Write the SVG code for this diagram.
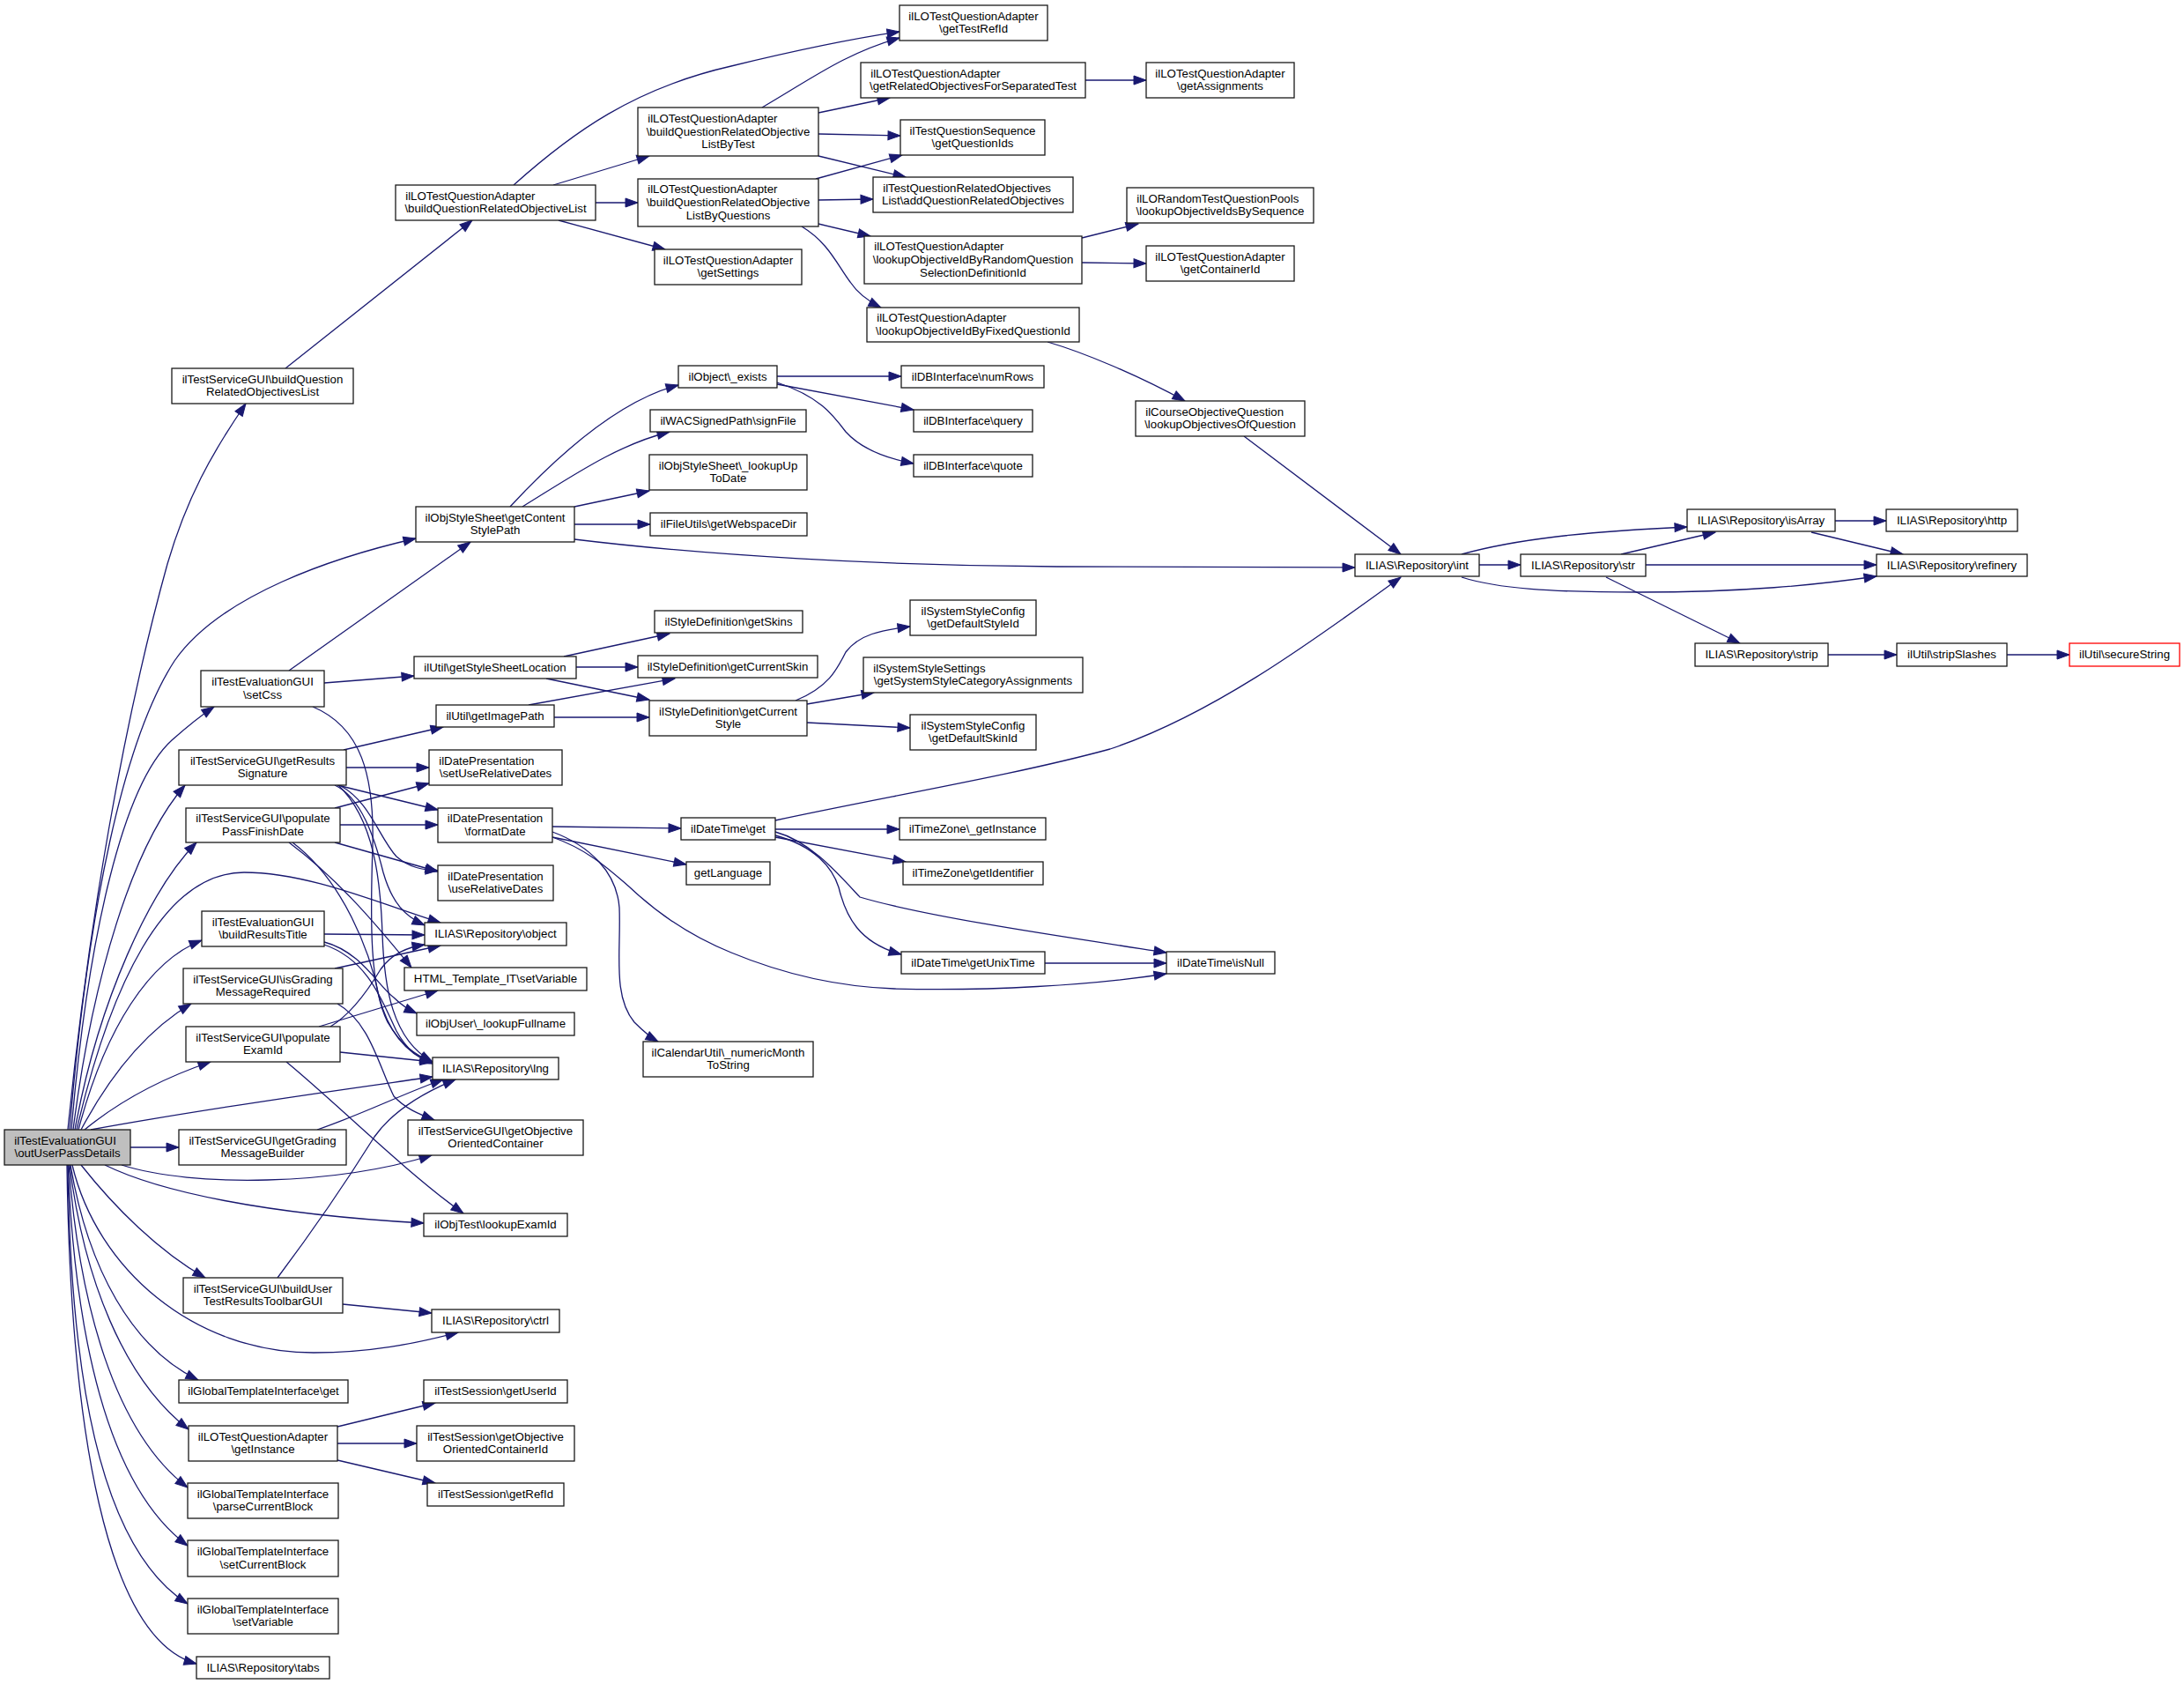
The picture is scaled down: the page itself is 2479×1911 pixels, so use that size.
<svg xmlns="http://www.w3.org/2000/svg" width="2479" height="1911" viewBox="0 0 2479 1911">
<defs>
<style>
.n rect{fill:#fff;stroke:#1a1a1a;stroke-width:1.3}
.root rect{fill:#bfbfbf}
.red rect{stroke:#ff0000}
text{font-family:"Liberation Sans",Arial,Helvetica,sans-serif;font-size:13.25px;fill:#000;text-anchor:middle}
text.l{text-anchor:start}
.e path{fill:none;stroke:#191970;stroke-width:1.3;marker-end:url(#a)}
</style>
<marker id="a" markerUnits="userSpaceOnUse" markerWidth="15" markerHeight="11" refX="14" refY="5" orient="auto" overflow="visible">
<path d="M0,0 L14,5 L0,10 z" fill="#191970" stroke="#191970" stroke-width="1"/>
</marker>
</defs>
<rect width="2479" height="1911" fill="#fff"/>
<g class="e" id="edges">
<path d="M77,1282 C100,1050 140,820 190,640 C212,565 240,515 279,458"/>
<path d="M79,1282 C100,1030 140,840 198,750 C250,675 380,632 472,611"/>
<path d="M81,1282 C100,1060 140,890 195,840 C212,825 228,812 243,802"/>
<path d="M83,1282 C105,1110 150,960 210,891"/>
<path d="M85,1282 C112,1135 170,1010 223,956"/>
<path d="M87,1282 C125,1120 185,990 277,990 C350,990 430,1025 500,1047"/>
<path d="M89,1282 C120,1165 170,1090 229,1067"/>
<path d="M92,1282 C125,1220 165,1170 217,1139"/>
<path d="M96,1282 C135,1250 180,1225 239,1205"/>
<path d="M103,1282 C250,1255 400,1235 491,1222"/>
<path d="M148,1302 L203,1302"/>
<path d="M138,1322 C220,1348 380,1345 490,1311"/>
<path d="M119,1322 C180,1352 300,1378 481,1388"/>
<path d="M92,1322 C130,1370 180,1420 233,1450"/>
<path d="M82,1322 C110,1440 220,1535 356,1535 C420,1535 470,1525 520,1512"/>
<path d="M80,1322 C100,1440 150,1530 225,1566"/>
<path d="M79,1322 C95,1450 140,1565 214,1622"/>
<path d="M78,1322 C90,1480 130,1625 213,1688"/>
<path d="M77,1322 C85,1510 120,1685 213,1754"/>
<path d="M77,1322 C80,1550 110,1755 213,1820"/>
<path d="M76,1322 C80,1620 120,1860 223,1888"/>
<path d="M324,418 L536,250"/>
<path d="M583,210 C650,150 720,100 830,75 C900,58 960,45 1021,36"/>
<path d="M628,210 L737,177"/>
<path d="M676,230 L724,230"/>
<path d="M634,250 L755,283"/>
<path d="M865,122 C920,90 960,60 1021,43"/>
<path d="M929,128 L1010,111"/>
<path d="M929,152 L1022,154"/>
<path d="M929,177 L1028,201"/>
<path d="M926,203 L1024,176"/>
<path d="M929,227 L991,226"/>
<path d="M929,254 L988,268"/>
<path d="M910,257 C940,275 950,300 965,320 C975,335 988,343 1000,349"/>
<path d="M1232,91 L1301,91"/>
<path d="M1228,270 L1292,254"/>
<path d="M1228,298 L1301,299"/>
<path d="M1189,388 C1230,400 1290,425 1345,455"/>
<path d="M1412,495 L1590,629"/>
<path d="M579,575 C630,520 700,455 770,437"/>
<path d="M593,575 C650,540 700,505 760,490"/>
<path d="M652,575 L737,557"/>
<path d="M652,595 L738,595"/>
<path d="M652,612 C800,630 1000,642 1200,643 C1350,644 1450,644 1538,644"/>
<path d="M882,427 L1023,427"/>
<path d="M882,436 L1037,465"/>
<path d="M882,434 C930,450 945,470 960,490 C978,510 1005,520 1037,526"/>
<path d="M1659,629 C1720,612 1800,603 1915,598"/>
<path d="M1679,641 L1726,641"/>
<path d="M1659,655 C1700,668 1760,672 1860,672 C1980,672 2060,664 2130,654"/>
<path d="M1840,629 L1947,604"/>
<path d="M1868,641 L2130,641"/>
<path d="M1823,655 L1975,730"/>
<path d="M2083,591 L2141,591"/>
<path d="M2056,604 L2160,629"/>
<path d="M2075,743 L2153,743"/>
<path d="M2278,743 L2349,743"/>
<path d="M328,761 C400,710 470,660 534,615"/>
<path d="M368,775 L470,767"/>
<path d="M355,802 C410,825 425,880 423,960 C420,1050 420,1120 440,1160 C455,1185 470,1197 491,1205"/>
<path d="M640,745 L760,719"/>
<path d="M654,757 L724,757"/>
<path d="M620,770 L737,794"/>
<path d="M600,800 L766,770"/>
<path d="M629,814 L737,814"/>
<path d="M903,795 C940,780 950,760 960,740 C975,720 1000,715 1033,711"/>
<path d="M916,799 L992,786"/>
<path d="M916,820 L1033,826"/>
<path d="M390,851 L503,825"/>
<path d="M393,871 L487,871"/>
<path d="M383,891 L497,919"/>
<path d="M387,892 C420,910 430,950 450,972 C465,985 480,987 497,988"/>
<path d="M380,891 C410,905 425,950 435,990 C445,1025 460,1040 482,1050"/>
<path d="M384,891 C425,930 432,1000 434,1060 C436,1120 445,1180 491,1205"/>
<path d="M380,917 L487,889"/>
<path d="M386,936 L497,936"/>
<path d="M380,956 L497,989"/>
<path d="M328,956 C380,995 420,1040 467,1098"/>
<path d="M332,956 C390,1000 420,1080 430,1130 C440,1170 460,1195 491,1207"/>
<path d="M368,1060 L482,1061"/>
<path d="M368,1069 C410,1080 430,1120 447,1132 C455,1140 462,1145 473,1150"/>
<path d="M368,1072 C420,1090 435,1140 450,1170 C462,1192 475,1200 491,1207"/>
<path d="M380,1099 L500,1073"/>
<path d="M383,1139 C420,1160 430,1210 447,1244 C460,1258 475,1264 493,1271"/>
<path d="M375,1165 C400,1150 420,1120 432,1100 C445,1082 462,1075 482,1072"/>
<path d="M362,1165 L497,1124"/>
<path d="M386,1194 L491,1205"/>
<path d="M325,1205 C380,1250 460,1330 526,1377"/>
<path d="M360,1282 C410,1265 460,1240 503,1225"/>
<path d="M315,1450 C360,1390 400,1330 425,1290 C445,1262 480,1240 517,1225"/>
<path d="M389,1480 L490,1490"/>
<path d="M383,1619 L494,1592"/>
<path d="M383,1638 L473,1638"/>
<path d="M383,1657 L494,1683"/>
<path d="M627,938 L773,940"/>
<path d="M627,950 L779,981"/>
<path d="M627,944 C670,960 700,990 703,1030 C705,1080 695,1130 720,1160 C730,1170 738,1177 747,1182"/>
<path d="M627,950 C670,965 695,990 715,1007 C750,1040 790,1065 830,1081 C900,1110 960,1120 1015,1122 C1120,1125 1240,1118 1324,1105"/>
<path d="M880,931 C1000,905 1150,880 1260,850 C1380,810 1500,720 1590,655"/>
<path d="M880,941 L1021,941"/>
<path d="M880,950 L1028,978"/>
<path d="M880,948 C925,960 945,985 952,1007 C960,1040 975,1070 1023,1083"/>
<path d="M880,944 C920,955 950,990 976,1018 C1050,1040 1200,1062 1324,1081"/>
<path d="M1186,1093 L1324,1093"/>
</g>
<g class="n root" id="n_root"><rect x="5" y="1282" width="143" height="40"/><text class="l" x="16.2" y="1298.7">ilTestEvaluationGUI</text><text x="76.5" y="1313.3">\outUserPassDetails</text></g>
<g class="n" id="n_bqrol"><rect x="195" y="418" width="206" height="40"/><text x="298" y="434.7">ilTestServiceGUI\buildQuestion</text><text x="298" y="449.3">RelatedObjectivesList</text></g>
<g class="n" id="n_bqrol2"><rect x="449" y="210" width="227" height="40"/><text class="l" x="460.2" y="226.7">ilLOTestQuestionAdapter</text><text x="562.5" y="241.3">\buildQuestionRelatedObjectiveList</text></g>
<g class="n" id="n_gcsp"><rect x="472" y="575" width="180" height="40"/><text x="562" y="591.7">ilObjStyleSheet\getContent</text><text x="562" y="606.3">StylePath</text></g>
<g class="n" id="n_getTestRefId"><rect x="1021" y="6" width="168" height="40"/><text x="1105" y="22.7">ilLOTestQuestionAdapter</text><text x="1105" y="37.3">\getTestRefId</text></g>
<g class="n" id="n_grofst"><rect x="977" y="71" width="255" height="40"/><text class="l" x="988.2" y="87.7">ilLOTestQuestionAdapter</text><text x="1104.5" y="102.3">\getRelatedObjectivesForSeparatedTest</text></g>
<g class="n" id="n_lbt"><rect x="724" y="122" width="205" height="55"/><text class="l" x="735.2" y="138.9">ilLOTestQuestionAdapter</text><text x="826.5" y="153.5">\buildQuestionRelatedObjective</text><text x="826.5" y="168.1">ListByTest</text></g>
<g class="n" id="n_gqi"><rect x="1022" y="136" width="164" height="40"/><text x="1104" y="152.7">ilTestQuestionSequence</text><text x="1104" y="167.3">\getQuestionIds</text></g>
<g class="n" id="n_aqro"><rect x="991" y="201" width="227" height="40"/><text class="l" x="1002.2" y="217.7">ilTestQuestionRelatedObjectives</text><text x="1104.5" y="232.3">List\addQuestionRelatedObjectives</text></g>
<g class="n" id="n_lbq"><rect x="724" y="203" width="205" height="54"/><text class="l" x="735.2" y="219.4">ilLOTestQuestionAdapter</text><text x="826.5" y="234">\buildQuestionRelatedObjective</text><text x="826.5" y="248.6">ListByQuestions</text></g>
<g class="n" id="n_gs"><rect x="743" y="283" width="167" height="40"/><text x="826.5" y="299.7">ilLOTestQuestionAdapter</text><text x="826.5" y="314.3">\getSettings</text></g>
<g class="n" id="n_loirq"><rect x="981" y="268" width="247" height="54"/><text class="l" x="992.2" y="284.4">ilLOTestQuestionAdapter</text><text x="1104.5" y="299">\lookupObjectiveIdByRandomQuestion</text><text x="1104.5" y="313.6">SelectionDefinitionId</text></g>
<g class="n" id="n_loifq"><rect x="984" y="349" width="241" height="39"/><text class="l" x="995.2" y="365.2">ilLOTestQuestionAdapter</text><text x="1104.5" y="379.8">\lookupObjectiveIdByFixedQuestionId</text></g>
<g class="n" id="n_exists"><rect x="770" y="415" width="112" height="25"/><text x="826" y="431.8">ilObject\_exists</text></g>
<g class="n" id="n_numRows"><rect x="1023" y="415" width="162" height="25"/><text x="1104" y="431.8">ilDBInterface\numRows</text></g>
<g class="n" id="n_signFile"><rect x="738" y="465" width="177" height="25"/><text x="826.5" y="481.8">ilWACSignedPath\signFile</text></g>
<g class="n" id="n_query"><rect x="1037" y="465" width="135" height="25"/><text x="1104.5" y="481.8">ilDBInterface\query</text></g>
<g class="n" id="n_lutd"><rect x="737" y="516" width="179" height="40"/><text x="826.5" y="532.7">ilObjStyleSheet\_lookupUp</text><text x="826.5" y="547.3">ToDate</text></g>
<g class="n" id="n_quote"><rect x="1037" y="516" width="135" height="25"/><text x="1104.5" y="532.8">ilDBInterface\quote</text></g>
<g class="n" id="n_webspace"><rect x="738" y="582" width="178" height="26"/><text x="827" y="599.3">ilFileUtils\getWebspaceDir</text></g>
<g class="n" id="n_getAssignments"><rect x="1301" y="71" width="168" height="40"/><text x="1385" y="87.7">ilLOTestQuestionAdapter</text><text x="1385" y="102.3">\getAssignments</text></g>
<g class="n" id="n_loibs"><rect x="1279" y="213" width="212" height="40"/><text class="l" x="1290.2" y="229.7">ilLORandomTestQuestionPools</text><text x="1385" y="244.3">\lookupObjectiveIdsBySequence</text></g>
<g class="n" id="n_getContainerId"><rect x="1301" y="279" width="168" height="40"/><text x="1385" y="295.7">ilLOTestQuestionAdapter</text><text x="1385" y="310.3">\getContainerId</text></g>
<g class="n" id="n_looq"><rect x="1289" y="455" width="192" height="40"/><text class="l" x="1300.2" y="471.7">ilCourseObjectiveQuestion</text><text x="1385" y="486.3">\lookupObjectivesOfQuestion</text></g>
<g class="n" id="n_int"><rect x="1538" y="629" width="141" height="25"/><text x="1608.5" y="645.8">ILIAS\Repository\int</text></g>
<g class="n" id="n_str"><rect x="1726" y="629" width="142" height="25"/><text x="1797" y="645.8">ILIAS\Repository\str</text></g>
<g class="n" id="n_isArray"><rect x="1915" y="578" width="168" height="25"/><text x="1999" y="594.8">ILIAS\Repository\isArray</text></g>
<g class="n" id="n_http"><rect x="2141" y="578" width="149" height="25"/><text x="2215.5" y="594.8">ILIAS\Repository\http</text></g>
<g class="n" id="n_refinery"><rect x="2130" y="629" width="171" height="25"/><text x="2215.5" y="645.8">ILIAS\Repository\refinery</text></g>
<g class="n" id="n_strip"><rect x="1924" y="730" width="151" height="26"/><text x="1999.5" y="747.3">ILIAS\Repository\strip</text></g>
<g class="n" id="n_stripSlashes"><rect x="2153" y="730" width="125" height="26"/><text x="2215.5" y="747.3">ilUtil\stripSlashes</text></g>
<g class="n red" id="n_secureString"><rect x="2349" y="730" width="125" height="26"/><text x="2411.5" y="747.3">ilUtil\secureString</text></g>
<g class="n" id="n_gssl"><rect x="470" y="745" width="184" height="25"/><text x="562" y="761.8">ilUtil\getStyleSheetLocation</text></g>
<g class="n" id="n_setCss"><rect x="228" y="761" width="140" height="41"/><text x="298" y="778.2">ilTestEvaluationGUI</text><text x="298" y="792.8">\setCss</text></g>
<g class="n" id="n_getImagePath"><rect x="495" y="800" width="134" height="25"/><text x="562" y="816.8">ilUtil\getImagePath</text></g>
<g class="n" id="n_grs"><rect x="203" y="851" width="190" height="40"/><text x="298" y="867.7">ilTestServiceGUI\getResults</text><text x="298" y="882.3">Signature</text></g>
<g class="n" id="n_surd"><rect x="487" y="851" width="151" height="40"/><text class="l" x="498.2" y="867.7">ilDatePresentation</text><text x="562.5" y="882.3">\setUseRelativeDates</text></g>
<g class="n" id="n_ppfd"><rect x="211" y="917" width="175" height="39"/><text x="298.5" y="933.2">ilTestServiceGUI\populate</text><text x="298.5" y="947.8">PassFinishDate</text></g>
<g class="n" id="n_formatDate"><rect x="497" y="917" width="130" height="39"/><text x="562" y="933.2">ilDatePresentation</text><text x="562" y="947.8">\formatDate</text></g>
<g class="n" id="n_urd"><rect x="497" y="982" width="131" height="40"/><text x="562.5" y="998.7">ilDatePresentation</text><text x="562.5" y="1013.3">\useRelativeDates</text></g>
<g class="n" id="n_brt"><rect x="229" y="1034" width="139" height="40"/><text x="298.5" y="1050.7">ilTestEvaluationGUI</text><text x="298.5" y="1065.3">\buildResultsTitle</text></g>
<g class="n" id="n_object"><rect x="482" y="1047" width="161" height="26"/><text x="562.5" y="1064.3">ILIAS\Repository\object</text></g>
<g class="n" id="n_htmlsv"><rect x="459" y="1098" width="207" height="26"/><text x="562.5" y="1115.3">HTML_Template_IT\setVariable</text></g>
<g class="n" id="n_igmr"><rect x="208" y="1099" width="181" height="40"/><text x="298.5" y="1115.7">ilTestServiceGUI\isGrading</text><text x="298.5" y="1130.3">MessageRequired</text></g>
<g class="n" id="n_lookupFullname"><rect x="473" y="1149" width="179" height="26"/><text x="562.5" y="1166.3">ilObjUser\_lookupFullname</text></g>
<g class="n" id="n_pei"><rect x="211" y="1165" width="175" height="40"/><text x="298.5" y="1181.7">ilTestServiceGUI\populate</text><text x="298.5" y="1196.3">ExamId</text></g>
<g class="n" id="n_lng"><rect x="491" y="1200" width="143" height="25"/><text x="562.5" y="1216.8">ILIAS\Repository\lng</text></g>
<g class="n" id="n_gooc"><rect x="463" y="1271" width="199" height="40"/><text x="562.5" y="1287.7">ilTestServiceGUI\getObjective</text><text x="562.5" y="1302.3">OrientedContainer</text></g>
<g class="n" id="n_getSkins"><rect x="743" y="693" width="168" height="25"/><text x="827" y="709.8">ilStyleDefinition\getSkins</text></g>
<g class="n" id="n_getCurrentSkin"><rect x="724" y="744" width="204" height="25"/><text x="826" y="760.8">ilStyleDefinition\getCurrentSkin</text></g>
<g class="n" id="n_getCurrentStyle"><rect x="737" y="795" width="179" height="40"/><text x="826.5" y="811.7">ilStyleDefinition\getCurrent</text><text x="826.5" y="826.3">Style</text></g>
<g class="n" id="n_gdsi"><rect x="1033" y="681" width="143" height="40"/><text x="1104.5" y="697.7">ilSystemStyleConfig</text><text x="1104.5" y="712.3">\getDefaultStyleId</text></g>
<g class="n" id="n_gssca"><rect x="980" y="746" width="249" height="40"/><text class="l" x="991.2" y="762.7">ilSystemStyleSettings</text><text x="1104.5" y="777.3">\getSystemStyleCategoryAssignments</text></g>
<g class="n" id="n_gdski"><rect x="1033" y="811" width="143" height="40"/><text x="1104.5" y="827.7">ilSystemStyleConfig</text><text x="1104.5" y="842.3">\getDefaultSkinId</text></g>
<g class="n" id="n_dtget"><rect x="773" y="928" width="107" height="25"/><text x="826.5" y="944.8">ilDateTime\get</text></g>
<g class="n" id="n_tzgi"><rect x="1021" y="928" width="166" height="25"/><text x="1104" y="944.8">ilTimeZone\_getInstance</text></g>
<g class="n" id="n_getLanguage"><rect x="779" y="978" width="95" height="26"/><text x="826.5" y="995.3">getLanguage</text></g>
<g class="n" id="n_tzid"><rect x="1025" y="978" width="159" height="26"/><text x="1104.5" y="995.3">ilTimeZone\getIdentifier</text></g>
<g class="n" id="n_unix"><rect x="1023" y="1080" width="163" height="25"/><text x="1104.5" y="1096.8">ilDateTime\getUnixTime</text></g>
<g class="n" id="n_cal"><rect x="730" y="1182" width="193" height="40"/><text x="826.5" y="1198.7">ilCalendarUtil\_numericMonth</text><text x="826.5" y="1213.3">ToString</text></g>
<g class="n" id="n_isNull"><rect x="1324" y="1080" width="123" height="25"/><text x="1385.5" y="1096.8">ilDateTime\isNull</text></g>
<g class="n" id="n_ggmb"><rect x="203" y="1282" width="190" height="40"/><text x="298" y="1298.7">ilTestServiceGUI\getGrading</text><text x="298" y="1313.3">MessageBuilder</text></g>
<g class="n" id="n_lookupExamId"><rect x="481" y="1377" width="163" height="26"/><text x="562.5" y="1394.3">ilObjTest\lookupExamId</text></g>
<g class="n" id="n_butr"><rect x="208" y="1450" width="181" height="40"/><text x="298.5" y="1466.7">ilTestServiceGUI\buildUser</text><text x="298.5" y="1481.3">TestResultsToolbarGUI</text></g>
<g class="n" id="n_ctrl"><rect x="490" y="1486" width="145" height="26"/><text x="562.5" y="1503.3">ILIAS\Repository\ctrl</text></g>
<g class="n" id="n_gtiget"><rect x="203" y="1566" width="192" height="26"/><text x="299" y="1583.3">ilGlobalTemplateInterface\get</text></g>
<g class="n" id="n_getUserId"><rect x="481" y="1566" width="163" height="26"/><text x="562.5" y="1583.3">ilTestSession\getUserId</text></g>
<g class="n" id="n_getInstance"><rect x="214" y="1618" width="169" height="40"/><text x="298.5" y="1634.7">ilLOTestQuestionAdapter</text><text x="298.5" y="1649.3">\getInstance</text></g>
<g class="n" id="n_goocid"><rect x="473" y="1618" width="179" height="40"/><text x="562.5" y="1634.7">ilTestSession\getObjective</text><text x="562.5" y="1649.3">OrientedContainerId</text></g>
<g class="n" id="n_getRefId"><rect x="485" y="1683" width="155" height="26"/><text x="562.5" y="1700.3">ilTestSession\getRefId</text></g>
<g class="n" id="n_pcb"><rect x="213" y="1683" width="171" height="40"/><text x="298.5" y="1699.7">ilGlobalTemplateInterface</text><text x="298.5" y="1714.3">\parseCurrentBlock</text></g>
<g class="n" id="n_scb"><rect x="213" y="1748" width="171" height="41"/><text x="298.5" y="1765.2">ilGlobalTemplateInterface</text><text x="298.5" y="1779.8">\setCurrentBlock</text></g>
<g class="n" id="n_sv"><rect x="213" y="1814" width="171" height="40"/><text x="298.5" y="1830.7">ilGlobalTemplateInterface</text><text x="298.5" y="1845.3">\setVariable</text></g>
<g class="n" id="n_tabs"><rect x="223" y="1880" width="151" height="25"/><text x="298.5" y="1896.8">ILIAS\Repository\tabs</text></g>
</svg>
